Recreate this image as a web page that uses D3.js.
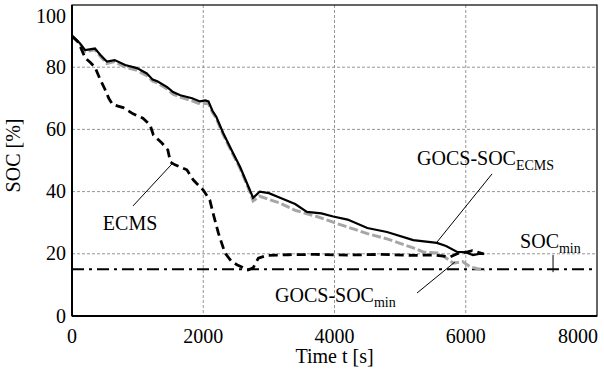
<!DOCTYPE html>
<html>
<head>
<meta charset="utf-8">
<script src="https://cdn.jsdelivr.net/npm/d3@7.9.0/dist/d3.min.js"></script>
<style>
  html, body { margin: 0; padding: 0; background: #fff; }
  #chart text { font-family: 'Liberation Serif', serif !important; }
</style>
</head>
<body>
<svg id="chart" width="604" height="382" font-family="Liberation Serif"></svg>
<script>
// tick labels
const xTicks = [0, 2000, 4000, 6000, 8000];
const yTicks = [0, 20, 40, 60, 80, 100];
const socMinLevel = 15;

// GOCS-SOC_ECMS (black solid)
const tEcmsRef = [0, 120, 200, 350, 430, 530, 650, 810, 990, 1140, 1230, 1300, 1450, 1540, 1650, 1830, 1950, 2030, 2080, 2140, 2200, 2300, 2440, 2560, 2700, 2760, 2860, 3000, 3170, 3400, 3580, 3800, 3980, 4200, 4500, 4800, 5200, 5560, 5700, 5870, 6000, 6110, 6200, 6280];
const vEcmsRef = [90, 87.7, 85.5, 86, 84, 81.8, 82.3, 80.7, 79.7, 78, 76, 75.5, 73.6, 72, 71, 70, 69, 69.3, 69, 66, 64, 59, 53, 48, 41, 38, 40, 39.5, 38, 36, 33.5, 33, 32, 31, 28.3, 27, 24.4, 23.5, 22.5, 20.6, 20.5, 19.6, 20, 20];

// GOCS-SOC_min (grey dashed)
const tMinRef = [0, 120, 200, 350, 430, 530, 650, 810, 990, 1140, 1230, 1300, 1450, 1540, 1650, 1830, 1950, 2030, 2080, 2140, 2200, 2300, 2440, 2560, 2700, 2760, 2860, 3000, 3170, 3400, 3730, 4000, 4500, 4800, 5200, 5350, 5600, 5810, 5950, 6070, 6180, 6290];
const vMinRef = [90, 87.5, 85, 85.6, 83.5, 81.2, 81.8, 80, 79, 77.3, 75.5, 75, 73, 71.3, 70.4, 69.2, 68.2, 68.4, 68.3, 65.5, 63.5, 58.5, 52.5, 47.5, 40.5, 37, 38.5, 37.5, 36.3, 34, 32, 30, 26.5, 24.8, 21.9, 20.6, 20.2, 17, 17.5, 15.8, 15.2, 14.8];

// ECMS (black dashed)
const tEcms = [0, 100, 200, 280, 350, 420, 500, 560, 620, 700, 780, 930, 1080, 1190, 1240, 1370, 1460, 1500, 1570, 1750, 1850, 2000, 2100, 2150, 2230, 2330, 2430, 2520, 2680, 2760, 2840, 2970, 3300, 3700, 4200, 4700, 5200, 5500, 5760, 5900, 6000, 6100, 6270];
const vEcms = [90, 88, 83, 81.5, 80, 76.5, 73, 70, 68, 67.5, 67, 65, 63.6, 61.4, 58.2, 55.6, 53.4, 49.5, 48.6, 47, 43.7, 40.5, 37.3, 33, 26.7, 20.3, 17.5, 16.4, 14.8, 15.5, 18.6, 19.5, 19.7, 19.8, 19.6, 19.8, 19.5, 19.6, 19, 20.3, 20.5, 21, 20];

const FONT = 'Liberation Serif';
const FS = 20;

const svg = d3.select('#chart');
const margin = { left: 72, top: 5, right: 7, bottom: 66 };
const W = 604 - margin.left - margin.right;
const H = 382 - margin.top - margin.bottom;

const x = d3.scaleLinear().domain([0, 8000]).range([0, W]);
const y = d3.scaleLinear().domain([0, 100]).range([H, 0]);

const g = svg.append('g').attr('transform', `translate(${margin.left},${margin.top})`);

function txt(sel) {
  return sel.append('text').attr('font-family', FONT)
    .style('font-family', `'${FONT}', serif`, 'important')
    .attr('fill', '#000').attr('font-size', FS);
}

// grid
g.selectAll('.gx').data(xTicks.slice(1, -1)).enter().append('line')
  .attr('x1', d => x(d)).attr('x2', d => x(d)).attr('y1', 0).attr('y2', H)
  .attr('stroke', '#8a8a8a').attr('stroke-width', 0.9).attr('stroke-dasharray', '3,2');
g.selectAll('.gy').data(yTicks.slice(1, -1)).enter().append('line')
  .attr('y1', d => y(d)).attr('y2', d => y(d)).attr('x1', 0).attr('x2', W)
  .attr('stroke', '#8a8a8a').attr('stroke-width', 0.9).attr('stroke-dasharray', '3,2');

// SOC_min level
g.append('line')
  .attr('x1', 0).attr('x2', W).attr('y1', y(socMinLevel)).attr('y2', y(socMinLevel))
  .attr('stroke', '#000').attr('stroke-width', 2).attr('stroke-dasharray', '12,5,3,5');

const line = d3.line().x(d => x(d[0])).y(d => y(d[1])).curve(d3.curveLinear);

g.append('path')
  .attr('d', line(d3.zip(tMinRef, vMinRef)))
  .attr('fill', 'none').attr('stroke', '#a6a6a6').attr('stroke-width', 3)
  .attr('stroke-dasharray', '9,3');

g.append('path')
  .attr('d', line(d3.zip(tEcmsRef, vEcmsRef)))
  .attr('fill', 'none').attr('stroke', '#000').attr('stroke-width', 2.2);

g.append('path')
  .attr('d', line(d3.zip(tEcms, vEcms)))
  .attr('fill', 'none').attr('stroke', '#000').attr('stroke-width', 2.8)
  .attr('stroke-dasharray', '9,5');

// frame
g.append('rect').attr('x', 0).attr('y', 0).attr('width', W).attr('height', H)
  .attr('fill', 'none').attr('stroke', '#000').attr('stroke-width', 1.2);
g.append('line').attr('x1', 0).attr('x2', 0).attr('y1', 0).attr('y2', H)
  .attr('stroke', '#000').attr('stroke-width', 2);
g.append('line').attr('x1', 0).attr('x2', W).attr('y1', H).attr('y2', H)
  .attr('stroke', '#000').attr('stroke-width', 2);

// tick labels (last x label kept inside the figure like the original)
xTicks.forEach((d, i) => {
  const last = i === xTicks.length - 1;
  txt(g).attr('x', last ? x(d) + 1 : x(d)).attr('y', H + 27)
    .attr('text-anchor', last ? 'end' : 'middle').text(d);
});
yTicks.forEach(d => {
  txt(g).attr('x', -6).attr('y', Math.max(y(d), 11) + 6.5)
    .attr('text-anchor', 'end').text(d);
});

// axis titles
txt(g).attr('x', x(4000)).attr('y', H + 47)
  .attr('text-anchor', 'middle').text('Time t [s]');
txt(g).attr('transform', `translate(${-52},${y(50) - 5}) rotate(-90)`)
  .attr('text-anchor', 'middle').text('SOC [%]');

// annotations
function label(tx, ty, main, sub) {
  const t = txt(g).attr('x', x(tx)).attr('y', y(ty));
  t.append('tspan').text(main);
  if (sub) t.append('tspan').attr('font-size', 14).attr('dy', 5).text(sub);
}
function leader(a, b) {
  g.append('line').attr('x1', x(a[0])).attr('y1', y(a[1])).attr('x2', x(b[0])).attr('y2', y(b[1]))
    .attr('stroke', '#000').attr('stroke-width', 1);
}

label(470, 27.7, 'ECMS');
leader([1524, 48.9], [930, 35.4]);

label(5258, 48.6, 'GOCS-SOC', 'ECMS');
leader([6401, 45.7], [5563, 23.8]);

label(6828, 21.9, 'SOC', 'min');
leader([7330, 19.6], [7330, 14.1]);

label(3094, 4.5, 'GOCS-SOC', 'min');
leader([5258, 7.4], [5837, 17.4]);
</script>
</body>
</html>
